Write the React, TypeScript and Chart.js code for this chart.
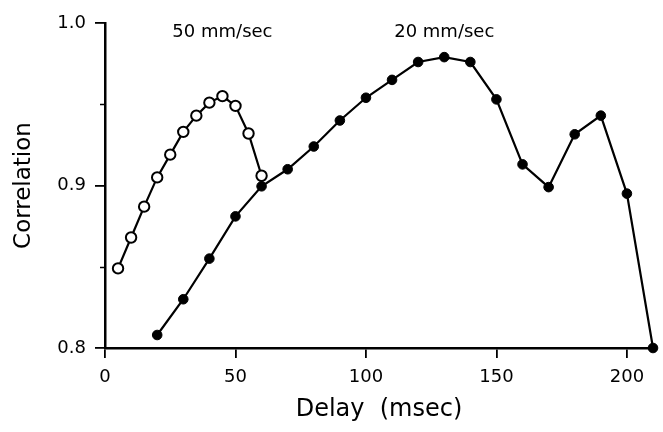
import React, { useEffect, useRef } from "react";
import { Chart, registerables } from "chart.js";

Chart.register(...registerables);

// 50 mm/sec (open circles)
const delays50 = [5, 10, 15, 20, 25, 30, 35, 40, 45, 50, 55, 60];
const corr50 = [0.849, 0.868, 0.887, 0.905, 0.919, 0.933, 0.943, 0.951, 0.955, 0.949, 0.932, 0.906];

// 20 mm/sec (filled circles)
const delays20 = [20, 30, 40, 50, 60, 70, 80, 90, 100, 110, 120, 130, 140, 150, 160, 170, 180, 190, 200, 210];
const corr20 = [0.808, 0.830, 0.855, 0.881, 0.8995, 0.910, 0.924, 0.940, 0.954, 0.965, 0.976, 0.979, 0.976, 0.953, 0.913, 0.899, 0.9315, 0.943, 0.895, 0.800];

const xTickValues = [0, 50, 100, 150, 200];
const xTickLabels = ["0", "50", "100", "150", "200"];
const yTickValues = [0.8, 0.9, 1.0];
const yTickLabels = ["0.8", "0.9", "1.0"];
const yMinorTickValues = [0.85, 0.95];

const annotationLabels = ["50 mm/sec", "20 mm/sec"];
const annotationX = [45, 130];
const annotationY = [0.9945, 0.9945];

const xTitle = "Delay  (msec)";
const yTitle = "Correlation";

const FONT = "'DejaVu Sans', 'Liberation Sans', Arial, sans-serif";

const annotationPlugin = {
  id: "speedLabels",
  afterDatasetsDraw(chart: any) {
    const { ctx, scales } = chart;
    ctx.save();
    ctx.fillStyle = "#000";
    ctx.font = `18px ${FONT}`;
    ctx.textAlign = "center";
    ctx.textBaseline = "middle";
    annotationLabels.forEach((t, i) => {
      ctx.fillText(t, scales.x.getPixelForValue(annotationX[i]), scales.y.getPixelForValue(annotationY[i]));
    });
    // short minor ticks on the y axis
    ctx.strokeStyle = "#000";
    ctx.lineWidth = 1.5;
    const left = chart.chartArea.left;
    yMinorTickValues.forEach((v) => {
      const y = Math.round(scales.y.getPixelForValue(v)) + 0.5;
      ctx.beginPath();
      ctx.moveTo(left - 5, y);
      ctx.lineTo(left, y);
      ctx.stroke();
    });
    ctx.restore();
  },
};

export default function App() {
  const ref = useRef<HTMLCanvasElement | null>(null);
  useEffect(() => {
    if (!ref.current) return;
    const chart = new Chart(ref.current, {
      type: "scatter",
      data: {
        datasets: [
          {
            label: "20 mm/sec",
            data: delays20.map((x, i) => ({ x, y: corr20[i] })),
            showLine: true,
            borderColor: "#000",
            borderWidth: 2.2,
            pointRadius: 4.8,
            pointBorderWidth: 1,
            pointBackgroundColor: "#000",
            pointBorderColor: "#000",
            clip: false as any,
            order: 2,
          },
          {
            label: "50 mm/sec",
            data: delays50.map((x, i) => ({ x, y: corr50[i] })),
            showLine: true,
            borderColor: "#000",
            borderWidth: 2.2,
            pointRadius: 5.2,
            pointBorderWidth: 2,
            pointBackgroundColor: "#fff",
            pointBorderColor: "#000",
            clip: false as any,
            order: 1,
          },
        ],
      },
      options: {
        animation: false,
        responsive: true,
        maintainAspectRatio: false,
        layout: { padding: { top: 23, right: 10, bottom: 0, left: 0 } },
        plugins: { legend: { display: false }, tooltip: { enabled: false } },
        scales: {
          x: {
            type: "linear",
            min: 0,
            max: 210,
            afterBuildTicks: (s: any) => {
              s.ticks = xTickValues.map((v) => ({ value: v }));
            },
            afterFit: (s: any) => {
              s.height = 84;
            },
            border: { display: true, color: "#000", width: 2.5 },
            grid: { drawOnChartArea: false, drawTicks: true, tickLength: 10, color: "#000", lineWidth: 1.8 },
            ticks: {
              color: "#000",
              font: { family: FONT, size: 18 },
              padding: 9,
              maxRotation: 0,
              callback: (_v: any, i: number) => xTickLabels[i],
            },
            title: {
              display: true,
              text: xTitle,
              color: "#000",
              font: { family: FONT, size: 24 },
              padding: { top: 0, bottom: 8 },
            },
          },
          y: {
            type: "linear",
            min: 0.8,
            max: 1.0,
            afterBuildTicks: (s: any) => {
              s.ticks = yTickValues.map((v) => ({ value: v }));
            },
            afterFit: (s: any) => {
              s.width = 105;
            },
            border: { display: true, color: "#000", width: 2.5 },
            grid: { drawOnChartArea: false, drawTicks: true, tickLength: 10, color: "#000", lineWidth: 1.8 },
            ticks: {
              color: "#000",
              font: { family: FONT, size: 18 },
              padding: 9,
              callback: (_v: any, i: number) => yTickLabels[i],
            },
            title: {
              display: true,
              text: yTitle,
              color: "#000",
              font: { family: FONT, size: 23 },
              padding: { top: 10, bottom: 0 },
            },
          },
        },
      },
      plugins: [annotationPlugin],
    });
    return () => chart.destroy();
  }, []);

  return (
    <div style={{ position: "fixed", left: 0, top: 0, width: 663, height: 432, background: "#fff" }}>
      <canvas ref={ref} />
    </div>
  );
}
